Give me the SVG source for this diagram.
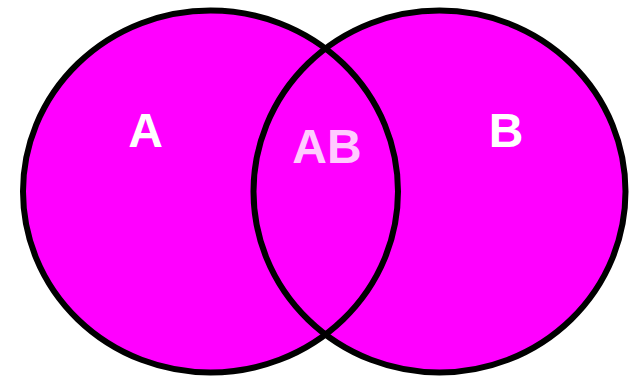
<svg xmlns="http://www.w3.org/2000/svg" width="629" height="376" viewBox="0 0 629 376">
<style>
.fill{fill:#FF00FF;stroke:none}
.edge{fill:none;stroke:#000;stroke-width:6}
.lbl{font-family:"Liberation Sans",Arial,sans-serif;font-weight:bold;font-size:48px;text-anchor:middle}
</style>
<rect width="629" height="376" fill="#fff"/>
<g id="setA">
<ellipse class="fill" cx="210.5" cy="191.5" rx="187.5" ry="181"/>
</g>
<g id="setB">
<ellipse class="fill" cx="439.5" cy="191.5" rx="186" ry="181"/>
</g>
<g id="outlines">
<ellipse class="edge" cx="210.5" cy="191.5" rx="187.5" ry="181"/>
<ellipse class="edge" cx="439.5" cy="191.5" rx="186" ry="181"/>
</g>
<g id="labels">
<text class="lbl" x="145.5" y="147" fill="#fff">A</text>
<text class="lbl" x="327" y="163" fill="#FFCCFF">AB</text>
<text class="lbl" x="506" y="147" fill="#fff">B</text>
</g>
</svg>
